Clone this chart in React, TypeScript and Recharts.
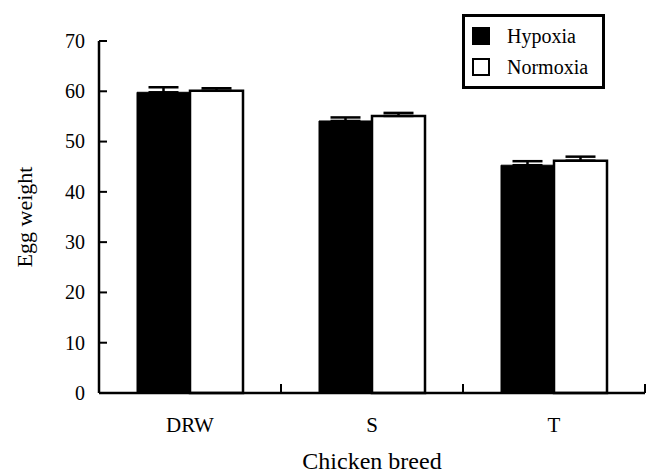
import React from 'react';
import { BarChart, Bar, XAxis, YAxis, ErrorBar, Legend } from 'recharts';

const categories = ['DRW', 'S', 'T'];
const hypoxia = [59.8, 54.1, 45.3];
const hypoxiaErr = [1.0, 0.7, 0.8];
const normoxia = [60.1, 55.1, 46.2];
const normoxiaErr = [0.5, 0.6, 0.8];
const yTicks = [0, 10, 20, 30, 40, 50, 60, 70];

// error bars are drawn upward only, as in the reference
const data = categories.map((c, i) => ({
  breed: c,
  Hypoxia: hypoxia[i],
  hErr: [0, hypoxiaErr[i]],
  Normoxia: normoxia[i],
  nErr: [0, normoxiaErr[i]],
}));

const FONT = '"Liberation Serif", Tinos, "Times New Roman", serif';

const LegendBox = (props: any) => {
  const items = props.payload || [];
  return (
    <div
      style={{
        border: '3px solid #000',
        width: 137,
        height: 69,
        boxSizing: 'content-box',
        fontFamily: FONT,
        fontSize: 20,
        color: '#000',
        background: '#fff',
        position: 'relative',
      }}
    >
      {items.map((it: any, i: number) => (
        <div
          key={it.value}
          style={{ position: 'absolute', left: 7, top: 10 + i * 31, height: 18, display: 'flex', alignItems: 'center' }}
        >
          <span
            style={{
              display: 'inline-block',
              width: i === 0 ? 18 : 14,
              height: i === 0 ? 18 : 14,
              background: i === 0 ? '#000' : '#fff',
              border: i === 0 ? 'none' : '2px solid #000',
            }}
          />
          <span style={{ marginLeft: 17, lineHeight: '18px', whiteSpace: 'nowrap' }}>{it.value}</span>
        </div>
      ))}
    </div>
  );
};

const YLabel = (props: any) => {
  const vb = props.viewBox || {};
  const cx = vb.x + 24;
  const cy = vb.y + vb.height / 2;
  return (
    <text
      x={cx}
      y={cy}
      transform={`rotate(-90, ${cx}, ${cy})`}
      textAnchor="middle"
      dominantBaseline="central"
      fontFamily={FONT}
      fontSize={22}
      fill="#000"
    >
      Egg weight
    </text>
  );
};

// y tick: label to the left, short tick line pointing inward (right)
const YTick = (props: any) => {
  const { x, y, payload } = props;
  return (
    <g>
      <line x1={x} x2={x + 8} y1={y} y2={y} stroke="#000" strokeWidth={2} />
      <text x={x - 14} y={y} dy="0.34em" textAnchor="end" fontFamily={FONT} fontSize={20} fill="#000">
        {payload.value}
      </text>
    </g>
  );
};

// x tick: category label at the centre, tick line at the band's right boundary pointing up
const XTick = (props: any) => {
  const { x, y, payload } = props;
  const off = typeof payload.offset === 'number' ? payload.offset : 0;
  return (
    <g>
      <line x1={x + off} x2={x + off} y1={y} y2={y - 9} stroke="#000" strokeWidth={2} />
      <text x={x} y={y + 39} textAnchor="middle" fontFamily={FONT} fontSize={21} fill="#000">
        {payload.value}
      </text>
    </g>
  );
};

export default function App() {
  return (
    <div style={{ position: 'absolute', left: 0, top: 0, width: 647, height: 476, background: '#fff', fontFamily: FONT }}>
      <BarChart
        width={647}
        height={476}
        data={data}
        margin={{ top: 41, right: 2, bottom: 0, left: 0 }}
        barGap={0}
        barSize={53}
      >
        <XAxis
          dataKey="breed"
          height={83}
          tickLine={false}
          tickSize={0}
          tickMargin={0}
          axisLine={{ stroke: '#000', strokeWidth: 2.5 }}
          tick={<XTick />}
          label={{
            value: 'Chicken breed',
            position: 'insideBottom',
            offset: 7,
            style: { fontFamily: FONT, fontSize: 24, fill: '#000' },
          }}
        />
        <YAxis
          width={99}
          domain={[0, 70]}
          ticks={yTicks}
          interval={0}
          tickLine={false}
          tickSize={0}
          tickMargin={0}
          axisLine={{ stroke: '#000', strokeWidth: 2.5 }}
          tick={<YTick />}
          label={<YLabel />}
        />
        <Legend
          layout="horizontal"
          verticalAlign="middle"
          align="center"
          content={<LegendBox />}
          wrapperStyle={{ position: 'absolute', left: 462, top: 14, width: 143, height: 75 }}
        />
        <Bar dataKey="Hypoxia" fill="#000" stroke="#000" strokeWidth={1} isAnimationActive={false}>
          <ErrorBar dataKey="hErr" width={15} stroke="#000" strokeWidth={2.5} direction="y" />
        </Bar>
        <Bar dataKey="Normoxia" fill="#fff" stroke="#000" strokeWidth={2.5} isAnimationActive={false}>
          <ErrorBar dataKey="nErr" width={15} stroke="#000" strokeWidth={2.5} direction="y" />
        </Bar>
      </BarChart>
    </div>
  );
}
